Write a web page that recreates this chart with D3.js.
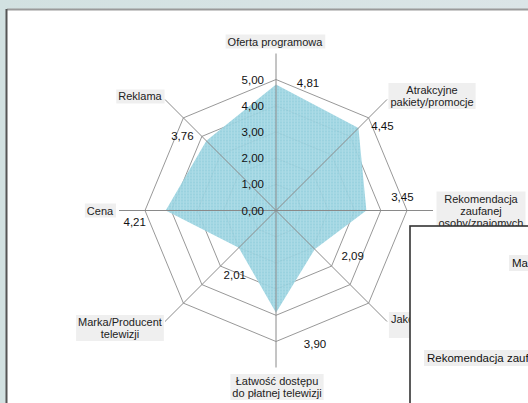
<!DOCTYPE html>
<html><head><meta charset="utf-8">
<script src="https://cdn.jsdelivr.net/npm/d3@7"></script>
<style>html,body{margin:0;padding:0;overflow:hidden;background:#d6e3e4}</style>
</head><body>
<svg id="c" width="528" height="403"></svg>
<script>
// ---- data ----
const categories = [
  ["Oferta programowa"],
  ["Atrakcyjne", "pakiety/promocje"],
  ["Rekomendacja", "zaufanej", "osoby/znajomych"],
  ["Jakość obsługi", "klienta"],
  ["Łatwość dostępu", "do płatnej telewizji"],
  ["Marka/Producent", "telewizji"],
  ["Cena"],
  ["Reklama"]
];
const values = [4.81, 4.45, 3.45, 2.09, 3.90, 2.01, 4.21, 3.76];
const valueLabels = ["4,81", "4,45", "3,45", "2,09", "3,90", "2,01", "4,21", "3,76"];
const tickValues = [0, 1, 2, 3, 4, 5];
const tickLabels = ["0,00", "1,00", "2,00", "3,00", "4,00", "5,00"];
const legendTexts = ["Marka/Producent telewizji", "Rekomendacja zaufanej osoby/znajomych"];

// ---- layout ----
const cx = 276, cy = 210.5;
const svg = d3.select("#c");
const font = "'Liberation Sans', Arial, sans-serif";
const n = categories.length;
const r = d3.scaleLinear().domain([0, 5]).range([0, 131]);
const ang = d3.scaleLinear().domain([0, n]).range([0, 2 * Math.PI]);
const spokeLen = 157;
const px = (a, rad) => cx + rad * Math.sin(a);
const py = (a, rad) => cy - rad * Math.cos(a);

// background
const defs = svg.append("defs");
const bg = defs.append("linearGradient").attr("id", "bg").attr("x1", 0).attr("x2", 1).attr("y1", 0).attr("y2", 0);
bg.append("stop").attr("offset", 0).attr("stop-color", "#d2e1e1");
bg.append("stop").attr("offset", 1).attr("stop-color", "#dbe5e7");
svg.append("rect").attr("width", 528).attr("height", 403).attr("fill", "url(#bg)");
svg.append("rect").attr("x", 7).attr("y", 10).attr("width", 530).attr("height", 400).attr("fill", "#fff");
svg.append("line").attr("x1", 7).attr("x2", 528).attr("y1", 9.5).attr("y2", 9.5).attr("stroke", "#9a9a9a").attr("stroke-width", 2);
svg.append("line").attr("x1", 6.5).attr("x2", 6.5).attr("y1", 9).attr("y2", 403).attr("stroke", "#555").attr("stroke-width", 2);

// fill pattern
const pat = defs.append("pattern").attr("id", "mesh").attr("patternUnits", "userSpaceOnUse").attr("width", 3).attr("height", 3);
pat.append("rect").attr("width", 3).attr("height", 3).attr("fill", "#92cfdd");
pat.append("rect").attr("width", 3).attr("height", 1).attr("fill", "#a6d8e4");
pat.append("rect").attr("width", 1).attr("height", 3).attr("fill", "#a6d8e4");

const g = svg.append("g");

// grid rings
const ringLine = d3.lineRadial().curve(d3.curveLinearClosed)
  .angle((d, i) => ang(i)).radius(d => r(d));
tickValues.filter(t => t > 0).forEach(t => {
  g.append("path").attr("d", ringLine(d3.range(n).map(() => t)))
    .attr("transform", `translate(${cx},${cy})`)
    .attr("fill", "none").attr("stroke", "#8c8c8c").attr("stroke-width", 0.9);
});

// data area
const area = d3.lineRadial().curve(d3.curveLinearClosed)
  .angle((d, i) => ang(i)).radius(d => r(d));
g.append("path").attr("d", area(values))
  .attr("transform", `translate(${cx},${cy})`)
  .attr("fill", "url(#mesh)").attr("fill-opacity", 0.93);

// spokes
d3.range(n).forEach(i => {
  g.append("line")
    .attr("x1", cx).attr("y1", cy)
    .attr("x2", px(ang(i), spokeLen)).attr("y2", py(ang(i), spokeLen))
    .attr("stroke", "#8a8a8a").attr("stroke-width", 1);
});

// tick labels
tickValues.forEach((t, i) => {
  g.append("text").attr("x", cx - 12).attr("y", cy - r(t) + 4)
    .attr("text-anchor", "end").attr("font-family", font).attr("font-size", 11.5)
    .attr("fill", "#111").text(tickLabels[i]);
});

// value labels (offset from data point)
const valOffsets = [[32, -1], [24, -2], [36, -14], [38, 7], [39, 31], [-4, 27], [-31, 11], [-24, -5]];
values.forEach((v, i) => {
  const a = ang(i);
  g.append("text")
    .attr("x", px(a, r(v)) + valOffsets[i][0])
    .attr("y", py(a, r(v)) + valOffsets[i][1] + 4)
    .attr("text-anchor", "middle").attr("font-family", font).attr("font-size", 11.5)
    .attr("fill", "#111").text(valueLabels[i]);
});

// category labels (offset from spoke end)
const catOffsets = [[-1, -12], [45, -3.5], [48, 0], [40, 3.5], [1, 19.5], [-45, 6.5], [-19, 0], [-25, -3]];
const lh = 12;
categories.forEach((lines, i) => {
  const a = ang(i);
  const x = px(a, spokeLen) + catOffsets[i][0];
  const y = py(a, spokeLen) + catOffsets[i][1];
  const lg = g.append("g");
  const t = lg.append("text").attr("font-family", font).attr("font-size", 11)
    .attr("fill", "#222").attr("text-anchor", "middle");
  lines.forEach((s, k) => {
    t.append("tspan").attr("x", x).attr("y", y + (k - (lines.length - 1) / 2) * lh + 4).text(s);
  });
  const bb = t.node().getBBox();
  lg.insert("rect", "text").attr("x", bb.x - 2).attr("y", bb.y - 1)
    .attr("width", bb.width + 4).attr("height", bb.height + 2).attr("fill", "#efefef");
});

// overlapping legend box
const ov = svg.append("g");
ov.append("rect").attr("x", 410).attr("y", 226).attr("width", 200).attr("height", 200)
  .attr("fill", "#fff").attr("stroke", "#333").attr("stroke-width", 1.6);
const legY = [263, 358], legX = [512, 427];
legendTexts.forEach((s, i) => {
  const t = ov.append("text").attr("x", legX[i]).attr("y", legY[i] + 4)
    .attr("font-family", font).attr("font-size", 11.5).attr("fill", "#111").text(s);
  const bb = t.node().getBBox();
  ov.insert("rect", () => t.node()).attr("x", bb.x - 3).attr("y", bb.y - 2)
    .attr("width", bb.width + 6).attr("height", bb.height + 4).attr("fill", "#eeeeee");
});
</script>
</body></html>
